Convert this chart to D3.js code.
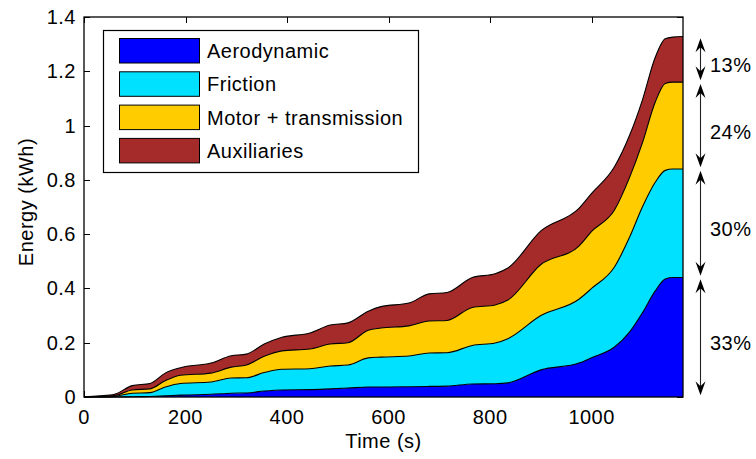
<!DOCTYPE html>
<html>
<head>
<meta charset="utf-8">
<script src="https://cdn.jsdelivr.net/npm/d3@7"></script>
<style>
  html, body { margin: 0; padding: 0; background: #fff; }
  svg { display: block; font-family: "Liberation Sans", Arial, Helvetica, sans-serif; }
  text { letter-spacing: 0.5px; }
</style>
</head>
<body>
<svg id="chart" width="756" height="459"></svg>
<script>
// ---- data ----
const times = [0, 30, 60, 95, 130, 160, 190, 250, 290, 320, 355, 390, 445, 485, 520, 560, 585, 640, 680, 715, 765, 810, 835, 900, 975, 1000, 1045, 1075, 1100, 1125, 1145, 1160, 1180];
const aerodynamic = [0, 0, 0, 0.001, 0.002, 0.004, 0.007, 0.01, 0.014, 0.015, 0.022, 0.026, 0.027, 0.03, 0.033, 0.037, 0.037, 0.038, 0.039, 0.04, 0.048, 0.049, 0.052, 0.1, 0.125, 0.145, 0.184, 0.24, 0.31, 0.39, 0.435, 0.44, 0.44];
const friction = [0, 0, 0.002, 0.013, 0.014, 0.033, 0.043, 0.045, 0.056, 0.056, 0.068, 0.076, 0.077, 0.084, 0.085, 0.107, 0.11, 0.113, 0.123, 0.123, 0.142, 0.15, 0.163, 0.2, 0.235, 0.255, 0.295, 0.35, 0.39, 0.40, 0.40, 0.40, 0.40];
const motor = [0, 0.002, 0.003, 0.012, 0.014, 0.023, 0.03, 0.033, 0.04, 0.047, 0.06, 0.068, 0.073, 0.081, 0.082, 0.102, 0.107, 0.111, 0.118, 0.119, 0.14, 0.14, 0.142, 0.188, 0.196, 0.21, 0.21, 0.22, 0.236, 0.295, 0.32, 0.32, 0.32];
const auxiliaries = [0, 0.002, 0.005, 0.016, 0.02, 0.028, 0.028, 0.037, 0.042, 0.04, 0.045, 0.05, 0.059, 0.07, 0.073, 0.07, 0.079, 0.084, 0.1, 0.103, 0.11, 0.115, 0.118, 0.124, 0.139, 0.14, 0.159, 0.155, 0.158, 0.165, 0.165, 0.166, 0.168];
const seriesNames = ["Aerodynamic", "Friction", "Motor + transmission", "Auxiliaries"];
const seriesKeys = ["aero", "fric", "motor", "aux"];
const colors = ["#0000ff", "#00e1ff", "#ffcc00", "#a52a2a"];
const percentLabels = ["33%", "30%", "24%", "13%"];
const xTicks = [0, 200, 400, 600, 800, 1000];
const yTicks = [0, 0.2, 0.4, 0.6, 0.8, 1, 1.2, 1.4];

// ---- build table ----
const rows = times.map((t, i) => ({ t, aero: aerodynamic[i], fric: friction[i], motor: motor[i], aux: auxiliaries[i] }));
const stacked = d3.stack().keys(seriesKeys)(rows);

const svg = d3.select("#chart");
const L = 84, R = 683, T = 17, B = 397;
const x = d3.scaleLinear().domain([0, 1180]).range([L, R]);
const y = d3.scaleLinear().domain([0, 1.4]).range([B, T]);
const tickLen = 6;
const fs = 20;

// ticks (inward, all four sides), drawn below data
const tg = svg.append("g").attr("stroke", "#000").attr("stroke-width", 1);
xTicks.forEach(v => {
  const px = Math.round(x(v)) + 0.5;
  tg.append("line").attr("x1", px).attr("x2", px).attr("y1", B).attr("y2", B - tickLen);
  tg.append("line").attr("x1", px).attr("x2", px).attr("y1", T).attr("y2", T + tickLen);
});
yTicks.forEach(v => {
  const py = Math.round(y(v)) + 0.5;
  tg.append("line").attr("x1", L).attr("x2", L + tickLen).attr("y1", py).attr("y2", py);
  tg.append("line").attr("x1", R).attr("x2", R - tickLen).attr("y1", py).attr("y2", py);
});

// areas
const area = d3.area().x(d => x(d.data.t)).y0(d => y(d[0])).y1(d => y(d[1])).curve(d3.curveMonotoneX);
const line = d3.line().x(d => x(d.data.t)).y(d => y(d[1])).curve(d3.curveMonotoneX);
stacked.forEach((s, i) => {
  svg.append("path").attr("d", area(s)).attr("fill", colors[i]).attr("stroke", "none");
});
stacked.forEach((s, i) => {
  svg.append("path").attr("d", line(s)).attr("fill", "none").attr("stroke", "#000").attr("stroke-width", 1.1);
});

// box
svg.append("rect").attr("x", L).attr("y", T).attr("width", R - L).attr("height", B - T)
  .attr("fill", "none").attr("stroke", "#000").attr("stroke-width", 1.3);

// tick labels
xTicks.forEach(v => {
  svg.append("text").attr("x", x(v)).attr("y", 424).attr("text-anchor", "middle")
    .attr("font-size", fs).attr("fill", "#000").text(v);
});
yTicks.forEach(v => {
  svg.append("text").attr("x", 76).attr("y", y(v) + 7).attr("text-anchor", "end")
    .attr("font-size", fs).attr("fill", "#000").text(d3.format("~g")(v));
});

// axis labels
svg.append("text").attr("x", (L + R) / 2).attr("y", 448).attr("text-anchor", "middle")
  .attr("font-size", fs).attr("fill", "#000").text("Time (s)");
svg.append("text").attr("transform", `translate(33,${202}) rotate(-90)`).attr("text-anchor", "middle")
  .attr("font-size", fs).attr("fill", "#000").text("Energy (kWh)");

// legend
const lg = svg.append("g");
lg.append("rect").attr("x", 103.5).attr("y", 30.5).attr("width", 315).attr("height", 142)
  .attr("fill", "#fff").attr("stroke", "#000").attr("stroke-width", 1.2);
seriesNames.forEach((name, i) => {
  const yy = 38.5 + i * 33.3;
  lg.append("rect").attr("x", 119.5).attr("y", yy).attr("width", 80).attr("height", 24.5)
    .attr("fill", colors[i]).attr("stroke", "#000").attr("stroke-width", 1);
  lg.append("text").attr("x", 207).attr("y", yy + 19.5).attr("font-size", fs).attr("fill", "#000").text(name);
});

// right-side double arrows with percentages
const last = stacked.map(s => s[s.length - 1]);
const ax = 700.5;
function head(tipY, dir) { // dir = +1 pointing down, -1 pointing up
  const l = 14, w = 5, n = 9;
  return `M${ax},${tipY} L${ax - w},${tipY - dir * l} L${ax},${tipY - dir * n} L${ax + w},${tipY - dir * l} Z`;
}
last.forEach((d, i) => {
  const yTop = y(d[1]) + 1.8, yBot = y(d[0]) - 1.8;
  svg.append("line").attr("x1", ax).attr("x2", ax).attr("y1", yTop + 6).attr("y2", yBot - 6)
    .attr("stroke", "#222").attr("stroke-width", 1.1);
  svg.append("path").attr("d", head(yTop, -1)).attr("fill", "#000");
  svg.append("path").attr("d", head(yBot, 1)).attr("fill", "#000");
  svg.append("text").attr("x", 710).attr("y", (yTop + yBot) / 2 + 13).attr("font-size", fs)
    .attr("fill", "#000").text(percentLabels[i]);
});
</script>
</body>
</html>
